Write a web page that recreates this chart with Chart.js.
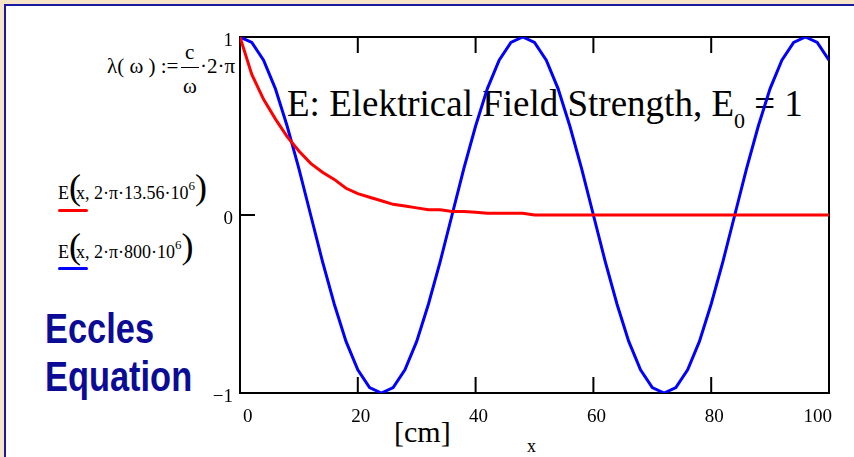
<!DOCTYPE html>
<html>
<head>
<meta charset="utf-8">
<script src="https://cdn.jsdelivr.net/npm/chart.js@4.4.1/dist/chart.umd.min.js"></script>
<style>
  html, body { margin: 0; padding: 0; }
  body { width: 854px; height: 457px; background: #f8e5c7; position: relative; overflow: hidden; font-family: "Liberation Serif", "Times New Roman", serif; }
  #panel { position: absolute; left: 4px; top: 4px; width: 848px; height: 451px; background: #fff; border-left: 2px solid #1a1aa0; border-top: 2px solid #1a1aa0; }
  .t { position: absolute; white-space: nowrap; line-height: 1; color: #000; z-index: 1; }
  .bp { font-size: 36px; line-height: 0; margin-right: -5px; }
  .sup { font-size: 13px; line-height: 0; vertical-align: 9px; }
  .line { position: absolute; height: 3px; border-radius: 2px; z-index: 1; }
  #chart { position: absolute; left: 0; top: 0; z-index: 2; }
</style>
</head>
<body>
<div id="panel"></div>

<!-- formula -->
<div class="t" style="left:107px; top:56px; font-size:21px;">λ( ω ) :=</div>
<div class="t" style="left:185px; top:42px; font-size:21px;">c</div>
<div class="t" style="left:181px; top:67px; width:18px; height:1px; background:#000;"></div>
<div class="t" style="left:183px; top:76px; font-size:21px;">ω</div>
<div class="t" style="left:200px; top:56px; font-size:21px;">·2·π</div>

<!-- legend -->
<div class="t" style="left:58px; top:184px; font-size:18px;">E<span class="bp">(</span>x, 2·π·13.56·10<span class="sup">6</span><span class="bp">)</span></div>
<div class="line" style="left:58px; top:209px; width:30px; background:#ff0000;"></div>
<div class="t" style="left:58px; top:243px; font-size:18px;">E<span class="bp">(</span>x, 2·π·800·10<span class="sup">6</span><span class="bp">)</span></div>
<div class="line" style="left:58px; top:267px; width:30px; background:#0000ff;"></div>

<!-- big label -->
<div class="t" style="left:45px; top:304px; font-family:'Liberation Sans',sans-serif; font-weight:bold; font-size:43px; line-height:48px; color:#0b0b96; transform:scaleX(0.8); transform-origin:0 0;">Eccles<br>Equation</div>

<!-- title inside plot -->
<div class="t" style="left:287px; top:85px; font-size:37px;">E: Elektrical Field Strength, E<span style="font-size:22px; line-height:0; vertical-align:-12px;">0</span> = 1</div>

<!-- axis captions -->
<div class="t" style="left:394px; top:417px; font-size:30px;">[cm]</div>
<div class="t" style="left:527px; top:437px; font-size:18px;">x</div>

<canvas id="chart" width="854" height="457"></canvas>

<script>
const X_VALUES = [0, 2, 4, 6, 8, 10, 12, 14, 16, 18, 20, 22, 24, 26, 28, 30, 32, 34, 36, 38, 40,
  42, 44, 46, 48, 50, 52, 54, 56, 58, 60, 62, 64, 66, 68, 70, 72, 74, 76, 78, 80,
  82, 84, 86, 88, 90, 92, 94, 96, 98, 100];

// E(x, 2*pi*13.56e6) - red
const RED_E = [1.00, 0.79, 0.65, 0.54, 0.44, 0.36, 0.29, 0.24, 0.20, 0.15, 0.12,
  0.10, 0.08, 0.06, 0.05, 0.04, 0.03, 0.03, 0.02, 0.02, 0.015,
  0.01, 0.01, 0.01, 0.01, 0.00, 0.00, 0.00, 0.00, 0.00, 0.00,
  0.00, 0.00, 0.00, 0.00, 0.00, 0.00, 0.00, 0.00, 0.00, 0.00,
  0.00, 0.00, 0.00, 0.00, 0.00, 0.00, 0.00, 0.00, 0.00, 0.00];

// E(x, 2*pi*800e6) - blue
const BLUE_E = [1.00, 0.97, 0.87, 0.71, 0.50, 0.26, 0.00, -0.26, -0.50, -0.71, -0.87,
  -0.97, -1.00, -0.97, -0.87, -0.71, -0.50, -0.26, 0.00, 0.26, 0.50,
  0.71, 0.87, 0.97, 1.00, 0.97, 0.87, 0.71, 0.50, 0.26, 0.00,
  -0.26, -0.50, -0.71, -0.87, -0.97, -1.00, -0.97, -0.87, -0.71, -0.50,
  -0.26, 0.00, 0.26, 0.50, 0.71, 0.87, 0.97, 1.00, 0.97, 0.87];

const X_TICKS = [0, 20, 40, 60, 80, 100];
const Y_TICKS = [-1, 0, 1];

// mathcad style box with inward ticks
const framePlugin = {
  id: 'mathcadFrame',
  beforeDatasetsDraw(chart) {
    const { ctx, chartArea: a, scales: { x, y } } = chart;
    ctx.save();
    ctx.strokeStyle = '#000';
    ctx.lineWidth = 2;
    ctx.strokeRect(a.left, a.top, a.right - a.left, a.bottom - a.top);
    ctx.beginPath();
    X_TICKS.forEach(v => {
      const px = x.getPixelForValue(v);
      ctx.moveTo(px, a.bottom); ctx.lineTo(px, a.bottom - 16);
      ctx.moveTo(px, a.top); ctx.lineTo(px, a.top + 16);
    });
    Y_TICKS.forEach(v => {
      const py = y.getPixelForValue(v);
      ctx.moveTo(a.left, py); ctx.lineTo(a.left + 15, py);
      ctx.moveTo(a.right, py); ctx.lineTo(a.right - 15, py);
    });
    ctx.stroke();
    ctx.restore();
  }
};

const tickFont = { family: 'Liberation Serif', size: 19 };

new Chart(document.getElementById('chart'), {
  type: 'line',
  data: {
    datasets: [
      {
        label: 'E(x, 2·π·13.56·10^6)',
        data: X_VALUES.map((x, i) => ({ x, y: RED_E[i] })),
        borderColor: '#ff0000',
        borderWidth: 3,
        pointRadius: 0,
        tension: 0
      },
      {
        label: 'E(x, 2·π·800·10^6)',
        data: X_VALUES.map((x, i) => ({ x, y: BLUE_E[i] })),
        borderColor: '#0000ff',
        borderWidth: 3,
        pointRadius: 0,
        tension: 0
      }
    ]
  },
  options: {
    responsive: false,
    animation: false,
    devicePixelRatio: 1,
    layout: { padding: { left: 0, top: 37, right: 25, bottom: 0 } },
    plugins: {
      legend: { display: false },
      tooltip: { enabled: false }
    },
    scales: {
      x: {
        type: 'linear',
        min: 0,
        max: 100,
        afterFit: s => { s.height = 64; },
        afterBuildTicks: s => { s.ticks = X_TICKS.map(v => ({ value: v })); },
        grid: { display: false, drawTicks: false },
        border: { display: false },
        ticks: { font: tickFont, color: '#000', padding: 13, labelOffset: 3, align: 'inner', maxRotation: 0, minRotation: 0, autoSkip: false }
      },
      y: {
        type: 'linear',
        min: -1,
        max: 1,
        afterFit: s => { s.width = 240; },
        afterBuildTicks: s => { s.ticks = Y_TICKS.map(v => ({ value: v })); },
        grid: { display: false, drawTicks: false },
        border: { display: false },
        ticks: {
          font: tickFont, color: '#000', padding: 7, labelOffset: 4,
          callback: v => (v < 0 ? '\u2212' + Math.abs(v) : String(v))
        }
      }
    }
  },
  plugins: [framePlugin]
});
</script>
</body>
</html>
